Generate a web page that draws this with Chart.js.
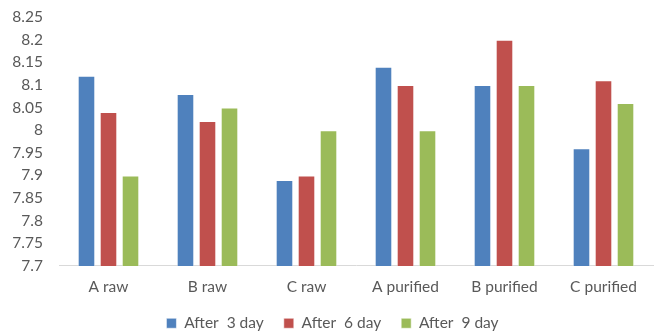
<!DOCTYPE html>
<html>
<head>
<meta charset="utf-8">
<script src="https://cdn.jsdelivr.net/npm/chart.js@4/dist/chart.umd.min.js"></script>
<style>
  html, body { margin: 0; padding: 0; background: #fff; }
  #wrap { width: 657px; height: 332px; }
</style>
</head>
<body>
<div id="wrap"><canvas id="c" width="657" height="332"></canvas></div>
<script>
const categories = ['A raw', 'B raw', 'C raw', 'A purified', 'B purified', 'C purified'];
const after3 = [8.12, 8.08, 7.89, 8.14, 8.10, 7.96];
const after6 = [8.04, 8.02, 7.90, 8.10, 8.20, 8.11];
const after9 = [7.90, 8.05, 8.00, 8.00, 8.10, 8.06];
const seriesNames = ['After  3 day', 'After  6 day', 'After  9 day'];
const seriesColors = ['#4F81BD', '#C0504D', '#9BBB59'];

const textColor = '#595959';
const font = { family: 'Lato, "Liberation Sans", sans-serif', size: 15.5 };

// The legend keeps wide gaps between its items but sits close under the axis:
// its box is made shorter and its contents are drawn a little higher.
const LEGEND_SHRINK = 24;
const LEGEND_LIFT = 13;
const compactLegend = {
  id: 'compactLegend',
  beforeInit(chart) {
    const lg = chart.legend;
    if (!lg) return;
    const fit = lg.fit.bind(lg);
    lg.fit = function () { fit(); this.height -= LEGEND_SHRINK; };
    const draw = lg.draw.bind(lg);
    lg.draw = function () {
      this.top -= LEGEND_LIFT;
      this.bottom += 4;
      draw();
      this.top += LEGEND_LIFT;
      this.bottom -= 4;
    };
  }
};

new Chart(document.getElementById('c'), {
  type: 'bar',
  data: {
    labels: categories,
    datasets: [after3, after6, after9].map((vals, i) => ({
      label: seriesNames[i],
      data: vals,
      backgroundColor: seriesColors[i],
      borderColor: 'rgba(255,255,255,0.55)',
      borderWidth: 1,
      categoryPercentage: 0.667,
      barPercentage: 0.8
    }))
  },
  plugins: [compactLegend],
  options: {
    responsive: false,
    animation: false,
    devicePixelRatio: 1,
    layout: { padding: { top: 0, right: 4, left: 12, bottom: 2 } },
    scales: {
      x: {
        grid: { display: false, drawTicks: false },
        border: { display: true, color: '#D9D9D9', width: 1 },
        ticks: { color: textColor, font: font, padding: 12, maxRotation: 0 }
      },
      y: {
        min: 7.7,
        max: 8.25,
        grid: { display: false, drawTicks: false },
        border: { display: false },
        afterFit: scale => {
          scale.width = 47;
          scale.paddingTop = 17;
        },
        ticks: {
          stepSize: 0.05,
          color: textColor,
          font: font,
          padding: 16,
          callback: v => String(+(+v).toFixed(2))
        }
      }
    },
    plugins: {
      tooltip: { enabled: false },
      legend: {
        position: 'bottom',
        labels: {
          color: textColor,
          font: font,
          boxWidth: 10,
          boxHeight: 10,
          padding: 20
        }
      }
    }
  }
});
</script>
</body>
</html>
